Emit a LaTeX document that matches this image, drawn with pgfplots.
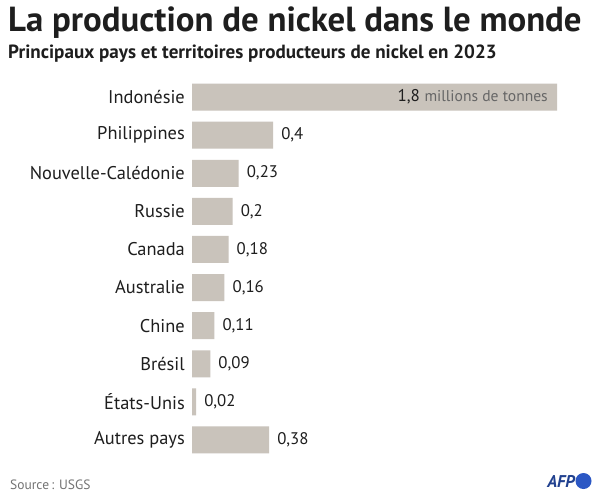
\documentclass[border=0pt]{standalone}
\usepackage{pgfplots}
\pgfplotsset{compat=1.18}
\usepackage{pgfplotstable}
\usepackage{fontspec}
\setmainfont{PT Sans}
\definecolor{barc}{HTML}{C9C3BB}
\definecolor{txt}{HTML}{1E1E1E}
\definecolor{afpdark}{HTML}{21418F}
\definecolor{afpblue}{HTML}{2B57C4}
\pgfplotstableread[col sep=comma]{
y,val,lab
9,1.8,{}
8,0.4,{0,4}
7,0.23,{0,23}
6,0.2,{0,2}
5,0.18,{0,18}
4,0.16,{0,16}
3,0.11,{0,11}
2,0.09,{0,09}
1,0.02,{0,02}
0,0.38,{0,38}
}\datatab
\begin{document}
\begin{tikzpicture}
\useasboundingbox (0,0) rectangle (600bp,-498bp);
\fill[white] (0,0) rectangle (600bp,-498bp);
\node[anchor=base west, inner sep=0pt, font=\bfseries\fontsize{34.8bp}{38bp}\selectfont, text=txt] at (8bp,-31bp) {La production de nickel dans le monde};
\node[anchor=base west, inner sep=0pt, font=\bfseries\fontsize{19.1bp}{22bp}\selectfont, text=txt] at (8bp,-58bp) {Principaux pays et territoires producteurs de nickel en 2023};
\begin{axis}[
  at={(192bp,-459bp)}, anchor=south west,
  scale only axis, width=365bp, height=381bp,
  xmin=0, xmax=1.8, ymin=-0.5, ymax=9.5,
  axis line style={draw=none},
  xtick=\empty,
  ytick={0,...,9},
  yticklabels={Autres pays,États-Unis,Brésil,Chine,Australie,Canada,Russie,Nouvelle-Calédonie,Philippines,Indonésie},
  yticklabel style={anchor=east, inner sep=0pt, xshift=-7bp, font=\fontsize{18.4bp}{20bp}\selectfont, text=txt},
  major tick length=0pt,
  tick style={draw=none},
  clip=false,
]
\addplot[xbar, bar width=27bp, fill=barc, draw=none,
  nodes near coords, point meta=explicit symbolic,
  every node near coord/.append style={anchor=west, inner sep=0pt, xshift=8bp, font=\fontsize{16.8bp}{18bp}\selectfont, text=txt}]
  table[x=val, y=y, meta=lab] {\datatab};
\node[anchor=east, inner sep=0pt, xshift=-9bp, font=\fontsize{17bp}{18bp}\selectfont] at (axis cs:1.8,9) {\textcolor{txt}{1,8} \textcolor{black!60}{\fontsize{15.6bp}{18bp}\selectfont millions de tonnes}};
\end{axis}
\node[anchor=base west, inner sep=0pt, font=\fontsize{13.5bp}{16bp}\selectfont, text=black!55] at (10bp,-489bp) {Source\,: USGS};
\node[anchor=base east, inner sep=0pt, font=\bfseries\itshape\fontsize{17bp}{18bp}\selectfont, text=afpdark] at (575bp,-487bp) {AFP};
\fill[afpblue] (583.5bp,-481bp) circle (8bp);
\end{tikzpicture}
\end{document}
